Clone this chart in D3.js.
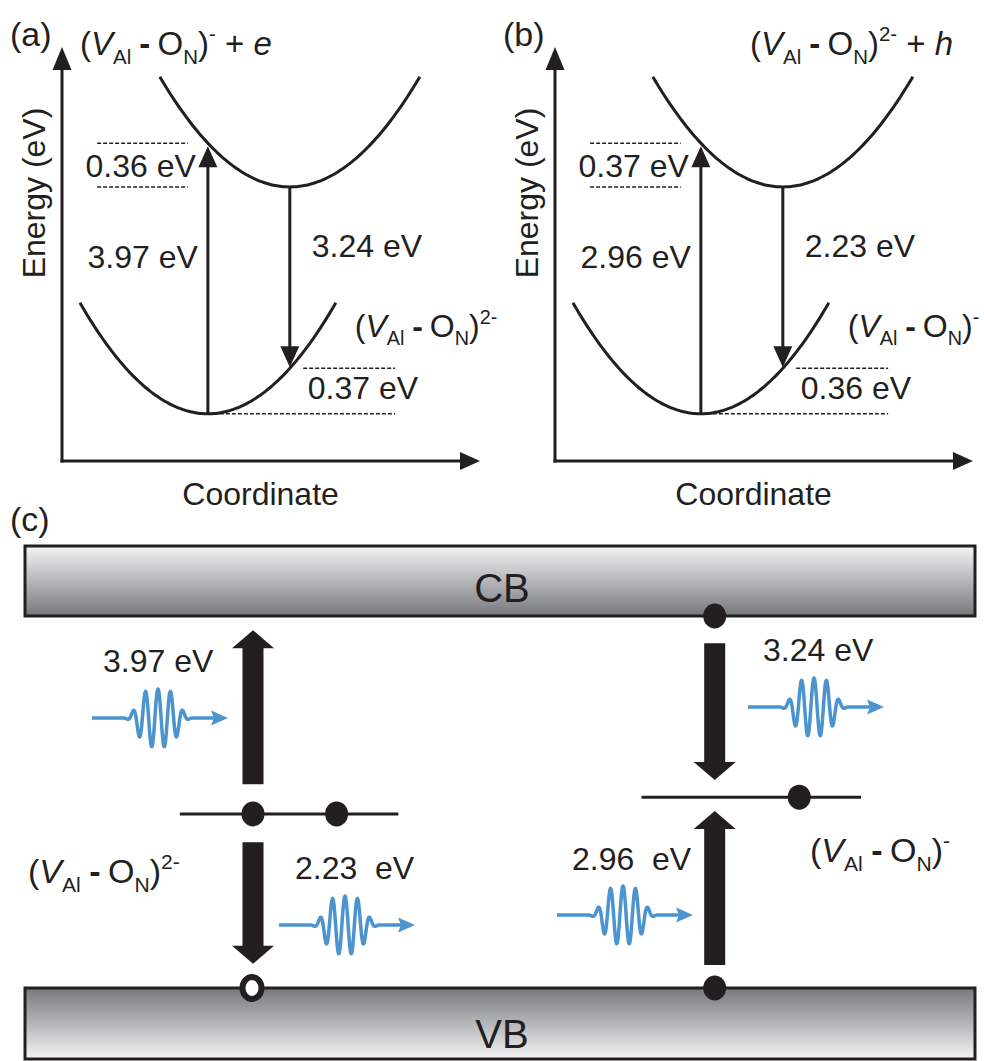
<!DOCTYPE html>
<html>
<head>
<meta charset="utf-8">
<title>Configuration coordinate diagram</title>
<script src="https://d3js.org/d3.v7.min.js"></script>
<style>
  body { margin: 0; background: #fff; }
  svg { display: block; }
  text { font-family: "Liberation Sans", Arial, sans-serif; fill: #231f20; }
</style>
</head>
<body>
<svg id="fig" width="984" height="1061"></svg>
<script>
// ---- values ----
var panelLetters = ["(a)", "(b)"];
var upperCharge = ["-", "2-"];
var upperCarrier = ["e", "h"];
var lowerCharge = ["2-", "-"];
var absorption = [3.97, 2.96];     // vertical excitation (eV)
var emission = [3.24, 2.23];       // vertical emission (eV)
var upperRelax = [0.36, 0.37];     // relaxation in the upper well (eV)
var lowerRelax = [0.37, 0.36];     // relaxation in the lower well (eV)

// schematic wells, in diagram units (0-10 on both axes)
var upperWell = { qMin: 5.45, eMin: 6.62, half: 3.11, rise: 2.66 };
var lowerWell = { qMin: 3.49, eMin: 1.14, half: 3.06, rise: 2.68 };

// panel (c): levels and transitions, x and E in 0-1 band units
var levelLabels = ["2-", "-"];
var levelE = [0.468, 0.513];
var levelSpan = [[0.163, 0.393], [0.649, 0.88]];
var levelDots = [[0.24, 0.328], [0.815]];
var transCol = [0.24, 0.24, 0.726, 0.726];
var transFrom = [0.548, 0.392, 0.927, 0.062];
var transTo = [0.962, 0.065, 0.559, 0.476];
var transLabel = ["3.97 eV", "2.23  eV", "3.24 eV", "2.96  eV"];
var cbDots = [0.726];
var vbDots = [0.726];
var vbHoles = [0.24];

var ink = "#231f20";
var blue = "#4b94cf";
var svg = d3.select("#fig");

var defs = svg.append("defs");
var gCB = defs.append("linearGradient").attr("id", "gradCB").attr("x1", 0).attr("x2", 0).attr("y1", 0).attr("y2", 1);
gCB.append("stop").attr("offset", "0%").attr("stop-color", "#f4f4f5");
gCB.append("stop").attr("offset", "100%").attr("stop-color", "#77787c");
var gVB = defs.append("linearGradient").attr("id", "gradVB").attr("x1", 0).attr("x2", 0).attr("y1", 0).attr("y2", 1);
gVB.append("stop").attr("offset", "0%").attr("stop-color", "#77787c");
gVB.append("stop").attr("offset", "100%").attr("stop-color", "#f4f4f5");

// chemical formula (V_Al - O_N)^q [+ carrier]
function formula(g, x, y, size, charge, carrier) {
  var t = g.append("text").attr("x", x).attr("y", y).attr("font-size", size);
  var sub = size * 0.62, off = 0;
  var parts = [["(", ""], ["V", "i"], ["Al", "sub"], [" - ", ""], ["O", ""], ["N", "sub"], [")", ""], [charge, "sup"]];
  if (carrier) { parts.push([" + ", ""]); parts.push([carrier, "i"]); }
  parts.forEach(function (p) {
    var target = p[1] === "sub" ? size * 0.26 : p[1] === "sup" ? -size * 0.42 : 0;
    var s = t.append("tspan").text(p[0]).attr("dy", target - off);
    off = target;
    if (p[1] === "sub" || p[1] === "sup") s.attr("font-size", sub);
    if (p[1] === "i") s.attr("font-style", "italic");
    if (p[0] === " - ") s.attr("font-weight", "bold").attr("letter-spacing", -1);
  });
}

function thinArrowHead(g, x, yTip, dir) {
  // dir = -1 points up, +1 points down
  var h = 21, w = 9.5;
  g.append("path")
    .attr("d", "M" + x + "," + yTip + "L" + (x - w) + "," + (yTip - dir * h) + "L" + (x + w) + "," + (yTip - dir * h) + "Z")
    .attr("fill", ink);
}

// ---- panels (a) and (b) ----
[0, 1].forEach(function (i) {
  var ox = i * 493;
  var x = d3.scaleLinear().domain([0, 10]).range([62 + ox, 480 + ox]);
  var y = d3.scaleLinear().domain([0, 10]).range([461, 47]);
  var g = svg.append("g");

  g.append("text").attr("x", 10 + ox).attr("y", 46).attr("font-size", 34).text(panelLetters[i]);

  // axes
  g.append("line").attr("x1", x(0)).attr("x2", x(0)).attr("y1", y(0) + 1.5).attr("y2", y(9.6))
    .attr("stroke", ink).attr("stroke-width", 3);
  g.append("line").attr("x1", x(0) - 1.5).attr("x2", x(9.6)).attr("y1", y(0)).attr("y2", y(0))
    .attr("stroke", ink).attr("stroke-width", 3);
  g.append("path").attr("d", "M" + x(0) + "," + y(10) + "l-9.5,23l19,0Z").attr("fill", ink);
  g.append("path").attr("d", "M" + x(10) + "," + y(0) + "l-20,-9l0,18Z").attr("fill", ink);

  g.append("text").attr("font-size", 32)
    .attr("transform", "translate(" + (45 + ox) + "," + 193 + ") rotate(-90)")
    .attr("text-anchor", "middle").text("Energy (eV)");
  g.append("text").attr("x", x(4.75)).attr("y", 505).attr("font-size", 32)
    .attr("text-anchor", "middle").text("Coordinate");

  function wellE(w, q) { var d = (q - w.qMin) / w.half; return w.eMin + w.rise * d * d; }
  var line = d3.line().x(function (d) { return x(d[0]); }).y(function (d) { return y(d[1]); }).curve(d3.curveBasis);
  [upperWell, lowerWell].forEach(function (w) {
    var pts = d3.range(w.qMin - w.half, w.qMin + w.half + 0.001, w.half / 40).map(function (q) { return [q, wellE(w, q)]; });
    g.append("path").attr("d", line(pts)).attr("fill", "none").attr("stroke", ink).attr("stroke-width", 3);
  });

  // vertical absorption arrow (lower minimum -> upper well)
  var eTop = wellE(upperWell, lowerWell.qMin);
  g.append("line").attr("x1", x(lowerWell.qMin)).attr("x2", x(lowerWell.qMin))
    .attr("y1", y(lowerWell.eMin)).attr("y2", y(eTop) + 15).attr("stroke", ink).attr("stroke-width", 3);
  thinArrowHead(g, x(lowerWell.qMin), y(eTop) + 3, -1);

  // vertical emission arrow (upper minimum -> lower well)
  var eBot = wellE(lowerWell, upperWell.qMin);
  g.append("line").attr("x1", x(upperWell.qMin)).attr("x2", x(upperWell.qMin))
    .attr("y1", y(upperWell.eMin)).attr("y2", y(eBot) - 15).attr("stroke", ink).attr("stroke-width", 3);
  thinArrowHead(g, x(upperWell.qMin), y(eBot) - 1, 1);

  // dashed guide lines
  var dashes = [
    [0.84, 3.01, eTop], [0.84, 3.01, upperWell.eMin],
    [5.77, 7.97, eBot], [lowerWell.qMin, 7.97, lowerWell.eMin]
  ];
  dashes.forEach(function (d) {
    g.append("line").attr("x1", x(d[0])).attr("x2", x(d[1])).attr("y1", y(d[2])).attr("y2", y(d[2]))
      .attr("stroke", ink).attr("stroke-width", 1.6).attr("stroke-dasharray", "4,2");
  });

  // energy labels
  g.append("text").attr("x", x(lowerWell.qMin) - 12).attr("y", y(upperWell.eMin) - 10)
    .attr("text-anchor", "end").attr("font-size", 32).text(upperRelax[i].toFixed(2) + " eV");
  g.append("text").attr("x", x(lowerWell.qMin) - 10).attr("y", 268)
    .attr("text-anchor", "end").attr("font-size", 32).text(absorption[i].toFixed(2) + " eV");
  g.append("text").attr("x", x(upperWell.qMin) + 22).attr("y", 257)
    .attr("font-size", 32).text(emission[i].toFixed(2) + " eV");
  g.append("text").attr("x", x(upperWell.qMin) + 18).attr("y", y(lowerWell.eMin) - 15)
    .attr("font-size", 32).text(lowerRelax[i].toFixed(2) + " eV");

  formula(g, i === 0 ? 80 : 750, 55, 33, upperCharge[i], upperCarrier[i]);
  formula(g, x(lowerWell.qMin + lowerWell.half) + 19, 337, 32, lowerCharge[i]);
});

// ---- panel (c) ----
var bx = d3.scaleLinear().domain([0, 1]).range([25, 975]);
var by = d3.scaleLinear().domain([0, 1]).range([988, 616]);
var gc = svg.append("g");

gc.append("text").attr("x", 10).attr("y", 531).attr("font-size", 34).text("(c)");

gc.append("rect").attr("x", bx(0)).attr("y", 546).attr("width", bx(1) - bx(0)).attr("height", by(1) - 546)
  .attr("fill", "url(#gradCB)").attr("stroke", ink).attr("stroke-width", 3);
gc.append("rect").attr("x", bx(0)).attr("y", by(0)).attr("width", bx(1) - bx(0)).attr("height", 1059 - by(0))
  .attr("fill", "url(#gradVB)").attr("stroke", ink).attr("stroke-width", 3);
gc.append("text").attr("x", 502).attr("y", 602).attr("font-size", 40).attr("text-anchor", "middle").text("CB");
gc.append("text").attr("x", 502).attr("y", 1048).attr("font-size", 40).attr("text-anchor", "middle").text("VB");

// defect levels
levelE.forEach(function (e, i) {
  gc.append("line").attr("x1", bx(levelSpan[i][0])).attr("x2", bx(levelSpan[i][1]))
    .attr("y1", by(e)).attr("y2", by(e)).attr("stroke", ink).attr("stroke-width", 3);
});

// thick transition arrows
transCol.forEach(function (c, i) {
  var xc = bx(c), y0 = by(transFrom[i]), y1 = by(transTo[i]);
  var dir = y1 < y0 ? -1 : 1, sw = 10.5, hw = 21, hl = 18;
  var yb = y1 - dir * hl;
  var d = "M" + (xc - sw) + "," + y0 + "L" + (xc - sw) + "," + yb + "L" + (xc - hw) + "," + yb +
    "L" + xc + "," + y1 + "L" + (xc + hw) + "," + yb + "L" + (xc + sw) + "," + yb + "L" + (xc + sw) + "," + y0 + "Z";
  gc.append("path").attr("d", d).attr("fill", ink);
});

// electrons and hole
function dot(cx, cy) {
  gc.append("ellipse").attr("cx", cx).attr("cy", cy).attr("rx", 11.5).attr("ry", 12.5).attr("fill", ink);
}
levelE.forEach(function (e, i) { levelDots[i].forEach(function (q) { dot(bx(q), by(e)); }); });
cbDots.forEach(function (q) { dot(bx(q), by(1)); });
vbDots.forEach(function (q) { dot(bx(q), by(0)); });
vbHoles.forEach(function (q) {
  gc.append("ellipse").attr("cx", bx(q) - 1).attr("cy", by(0)).attr("rx", 9.5).attr("ry", 11)
    .attr("fill", "#fff").attr("stroke", ink).attr("stroke-width", 6);
});

// transition energies
var labelPos = [[103, 672], [295, 879], [763, 661], [572, 870]];
transLabel.forEach(function (t, i) {
  gc.append("text").attr("x", labelPos[i][0]).attr("y", labelPos[i][1]).attr("font-size", 32)
    .attr("xml:space", "preserve").style("white-space", "pre").text(t);
});

// photon wave packets
var wavePos = [[92, 718], [279, 925], [748, 707], [557, 915]];
function wave(x0, y0) {
  var L = 122, c = 66, s = 23, lam = 12.5, A = 29;
  var pts = d3.range(0, L + 0.01, 0.5).map(function (t) {
    var env = Math.exp(-Math.pow((t - c) / s, 4));
    return [x0 + t, y0 - A * env * Math.cos(2 * Math.PI * (t - c) / lam)];
  });
  gc.append("path").attr("d", d3.line()(pts)).attr("fill", "none").attr("stroke", blue)
    .attr("stroke-width", 3.5).attr("stroke-linejoin", "round");
  gc.append("path").attr("d", "M" + (x0 + 136) + "," + y0 + "l-17,-7.5l3,7.5l-3,7.5Z").attr("fill", blue);
}
wavePos.forEach(function (p) { wave(p[0], p[1]); });

formula(gc, 28, 883, 34, levelLabels[0]);
formula(gc, 810, 862, 34, levelLabels[1]);
</script>
</body>
</html>
